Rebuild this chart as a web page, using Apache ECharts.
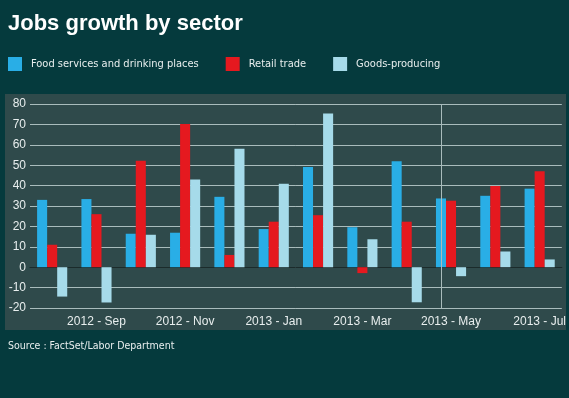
<!DOCTYPE html>
<html>
<head>
	<meta charset="utf-8">
	<title>Jobs growth by sector</title>
	<style>
		html, body { margin: 0; padding: 0; background: #053a3d; }
	</style>
</head>
<body>
	<div style="width:569px;height:398px;" id="chart1"></div>

	<script src="https://cdn.jsdelivr.net/npm/echarts@6/dist/echarts.min.js"></script>
	<script type="text/javascript">

    var months = ['2012 - Aug','2012 - Sep','2012 - Oct','2012 - Nov','2012 - Dec','2013 - Jan',
                  '2013 - Feb','2013 - Mar','2013 - Apr','2013 - May','2013 - Jun','2013 - Jul'];
    var food   = [33, 33.4, 16.4, 16.9, 34.5, 18.7, 49.1, 19.6, 51.9, 33.7, 35, 38.5];
    var retail = [11, 26, 52.2, 70.2, 6, 22.3, 25.5, -2.9, 22.3, 32.6, 39.8, 47];
    var goods  = [-14.4, -17.3, 15.9, 43, 58.1, 40.9, 75.3, 13.7, -17.2, -4.4, 7.7, 3.8];
    var markMonth = '2013 - May';

    var dom = document.getElementById('chart1');
    var myChart = echarts.init(dom);
    var font = 'Liberation Sans, Arial, sans-serif';
    var smallFont = 'DejaVu Sans Condensed, DejaVu Sans, sans-serif';

    var option = {
        backgroundColor: '#053a3d',
        animation: false,
        title: {
            text: 'Jobs growth by sector',
            left: 3,
            top: 8,
            textStyle: {color: '#fff', fontSize: 22, fontWeight: 'bold', fontFamily: font}
        },
        legend: {
            left: 8,
            top: 57,
            padding: 0,
            itemWidth: 14,
            itemHeight: 14,
            itemGap: 27,
            icon: 'rect',
            textStyle: {color: '#e8eeee', fontSize: 11, fontFamily: smallFont, padding: [2, 0, 0, 4]},
            data: ['Food services and drinking places', 'Retail trade', 'Goods-producing']
        },
        graphic: [
            {type: 'rect', left: 5, top: 94, z: -1,
             shape: {width: 561, height: 236},
             style: {fill: '#2f4a4b'}},
            {type: 'text', left: 8, top: 341, z: 10,
             style: {text: 'Source : FactSet/Labor Department', fill: '#e8eeee', fontSize: 10.5, fontFamily: smallFont}}
        ],
        grid: {left: 30, right: 7, top: 104, bottom: 90},
        xAxis: {
            type: 'category',
            data: months,
            axisTick: {show: false},
            axisLine: {onZero: true, lineStyle: {color: '#1b2b2b', width: 1}},
            axisLabel: {
                interval: function (i) { return i % 2 === 1; },
                color: '#e8eeee', fontSize: 12, fontFamily: font, margin: 8
            }
        },
        yAxis: {
            type: 'value',
            min: -20,
            max: 80,
            interval: 10,
            axisLine: {show: false},
            axisTick: {show: false},
            splitLine: {lineStyle: {color: '#a9bcbc', width: 1}},
            axisLabel: {color: '#e8eeee', fontSize: 12, fontFamily: font, margin: 4}
        },
        series: [
            {
                name: 'Food services and drinking places',
                type: 'bar',
                barGap: '0%',
                barCategoryGap: '32%',
                itemStyle: {color: '#29aee6'},
                data: food,
                markLine: {
                    silent: true,
                    symbol: 'none',
                    label: {show: false},
                    lineStyle: {color: '#a9bcbc', type: 'solid', width: 1},
                    data: [{xAxis: markMonth}]
                }
            },
            {
                name: 'Retail trade',
                type: 'bar',
                itemStyle: {color: '#e5191f'},
                data: retail
            },
            {
                name: 'Goods-producing',
                type: 'bar',
                itemStyle: {color: '#a6dbea'},
                data: goods
            }
        ]
    };
    myChart.setOption(option, true);

	</script>
</body>
</html>
